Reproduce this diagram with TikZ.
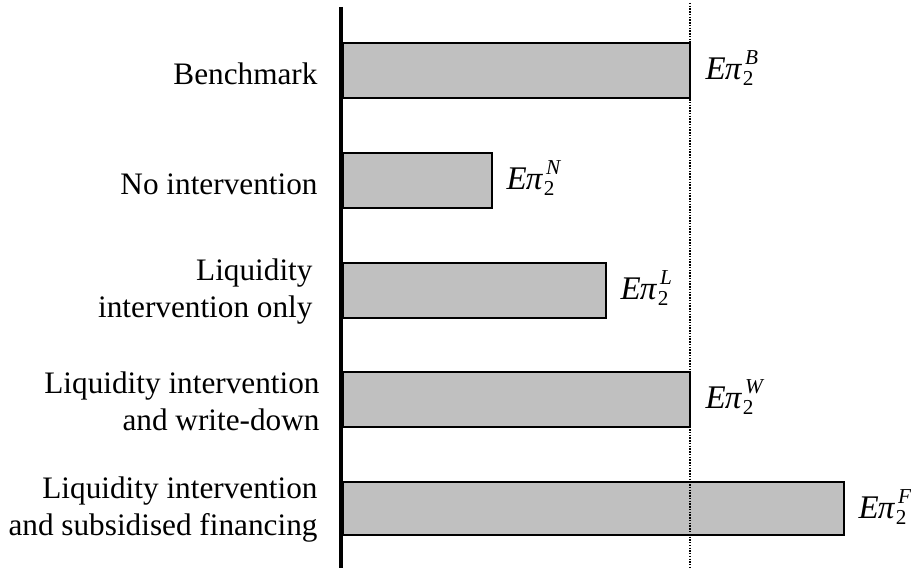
\documentclass[tikz,border=0pt]{standalone}
\usepackage{fontspec}
\setmainfont{Liberation Serif}
\usepackage{tikz}

\newcommand{\epilabel}[1]{\textit{E\kern-0.3pt π}\rlap{\raisebox{-2.4pt}{\kern.3pt\fontsize{8.5}{9}\selectfont 2}}\raisebox{5.8pt}{\kern1.2pt\fontsize{8.5}{9}\selectfont\itshape #1}}

\begin{document}
\begin{tikzpicture}[x=0.4pt, y=-0.4pt,
  bar/.style={fill={rgb,255:red,192;green,192;blue,192}, draw=black, line width=.65pt},
  casename/.style={anchor=east, align=right, font=\fontsize{12.5}{14.8}\selectfont, inner sep=0pt},
  valuename/.style={anchor=west, font=\fontsize{13.2}{14}\selectfont, inner sep=0pt}]
\useasboundingbox (0,0) rectangle (911,571);
\draw[bar] (343,43) rectangle (690,98);
\draw[bar] (343,153) rectangle (492,208);
\draw[bar] (343,263) rectangle (606,318);
\draw[bar] (343,372) rectangle (690,427);
\draw[bar] (343,482) rectangle (844,535);
\coordinate (dtop) at (690,3);
\coordinate (dbot) at (690,568);
\draw[line width=.75pt, dash pattern=on .55pt off .55pt] (dtop) -- (dbot);
\coordinate (atop) at (341,7);
\coordinate (abot) at (341,568);
\draw[line width=1.4pt] (atop) -- (abot);
\node[casename] (bench) at (318,74) {Benchmark};
\node[casename] (none) at (318,184) {No intervention};
\node[casename] (liq) at (313,292) {Liquidity\\intervention only};
\node[casename] (wd) at (320,401) {Liquidity intervention\\and write-down};
\node[casename] (fin) at (318,510) {Liquidity intervention\\and subsidised financing};
\node[valuename] (vbench) at (705,68) {\epilabel{B}};
\node[valuename] (vnone) at (506,178) {\epilabel{N}};
\node[valuename] (vliq) at (620,288) {\epilabel{L}};
\node[valuename] (vwd) at (705,397) {\epilabel{W}};
\node[valuename] (vfin) at (858,507) {\epilabel{F}};
\end{tikzpicture}
\end{document}
